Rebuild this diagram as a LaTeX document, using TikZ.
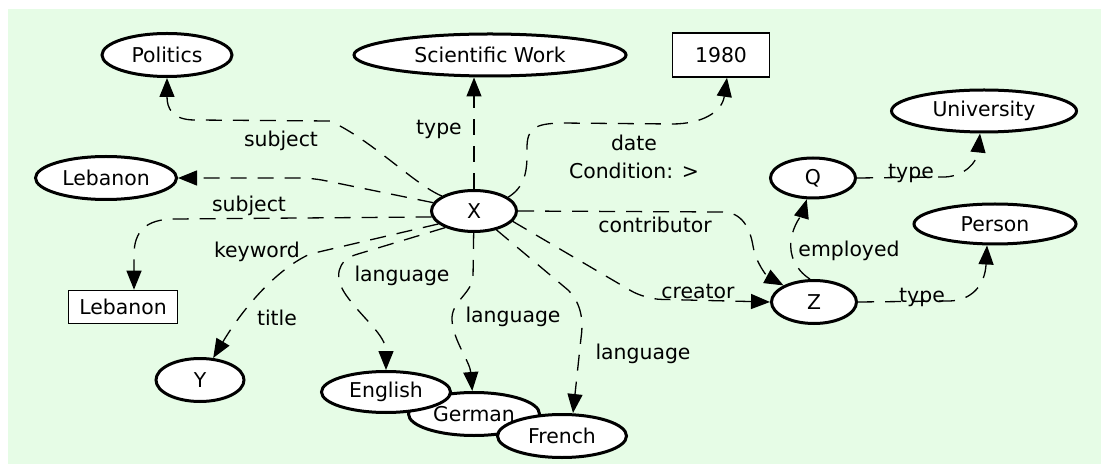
\documentclass[tikz,border=0pt]{standalone}
\usepackage{fontspec}
\setmainfont{DejaVu Sans}
\usetikzlibrary{shapes.geometric,arrows.meta}
\definecolor{paleg}{RGB}{230,252,230}
\begin{document}
\begin{tikzpicture}[x=0.5pt,y=-0.5pt,
	ent/.style={ellipse,draw,line width=1.5pt,fill=white,inner sep=0pt,font=\fontsize{10.2}{12}\selectfont},
	lit/.style={rectangle,draw,line width=0.8pt,fill=white,inner sep=0pt,font=\fontsize{10.2}{12}\selectfont},
	lbl/.style={anchor=base,inner sep=0pt,font=\fontsize{10.2}{14.25}\selectfont},
	edge/.style={line width=0.65pt,dash pattern=on 8pt off 5.5pt,-{Triangle[length=9.5pt,width=7.5pt]}}]
		\useasboundingbox (0,0) rectangle (1101,464);
		\fill[paleg] (8,9) rectangle (1101,464);
		\node[ent,minimum width=65pt,minimum height=21.5pt] (politics) at (167,55) {Politics};
		\node[ent,minimum width=136pt,minimum height=21pt] (sciwork) at (490,55) {Scientific Work};
		\node[lit,minimum width=48.5pt,minimum height=22pt] (year) at (721,55) {1980};
		\node[ent,minimum width=92.5pt,minimum height=21pt] (univ) at (984,111) {University};
		\node[ent,minimum width=42.5pt,minimum height=20pt] (q) at (813,178) {Q};
		\node[ent,minimum width=81pt,minimum height=20pt] (person) at (995,224) {Person};
		\node[ent,minimum width=70.5pt,minimum height=21.5pt] (lebE) at (106,178) {Lebanon};
		\node[ent,minimum width=42.5pt,minimum height=20.5pt] (x) at (474,211) {X};
		\node[ent,minimum width=42.5pt,minimum height=21.5pt] (z) at (814,302) {Z};
		\node[lit,minimum width=54.5pt,minimum height=16.5pt] (lebR) at (123,307) {Lebanon};
		\node[ent,minimum width=44pt,minimum height=21.5pt] (y) at (200,380) {Y};
		\node[ent,minimum width=65.5pt,minimum height=21.5pt] (german) at (474,414) {German};
		\node[ent,minimum width=64.5pt,minimum height=20.5pt] (english) at (386,392) {English};
		\node[ent,minimum width=64.5pt,minimum height=21.5pt] (french) at (562,436) {French};
		\draw[edge] (x.155) .. controls (415,185) and (372,140) .. (330,121) -- (195,120) .. controls (172,120) and (167,108) .. (politics);
		\draw[edge,rounded corners=6pt] (x) -- (312,178) -- (lebE);
		\draw[edge] (x.188) -- (175,219) .. controls (145,219) and (134,232) .. (134,255) -- ([xshift=5.5pt]lebR.north);
		\draw[edge] (x.200) -- (310,254) .. controls (275,270) and (242,310) .. (y);
		\draw[edge] (x.210) -- (358,254) .. controls (336,260) and (334,278) .. (346,295) .. controls (362,318) and (386,335) .. (english);
		\draw[edge] (x) -- (473,278) .. controls (470,295) and (451,302) .. (452,320) .. controls (453,340) and (470,362) .. (german);
		\draw[edge] (x) -- (568,290) .. controls (580,302) and (584,318) .. (581,338) -- ([xshift=5.5pt]french.north);
		\draw[edge,rounded corners=8pt] (x.-15) -- (645,299) -- (z.west);
		\draw[edge] (x.east) -- (722,212) .. controls (742,212) and (750,228) .. (753,246) .. controls (756,264) and (768,277) .. (z);
		\draw[edge] (x.22) .. controls (528,185) and (527,165) .. (527,148) .. controls (527,128) and (535,124) .. (560,123) -- (672,124) .. controls (702,124) and (722,112) .. ([xshift=3pt]year.south);
		\draw[edge] (x) -- (x |- sciwork.south);
		\draw[edge] (z.100) .. controls (796,270) and (789,256) .. (791,240) .. controls (793,225) and (803,212) .. (q);
		\draw[edge] (q.east) -- (945,177) .. controls (965,176) and (977,162) .. ([xshift=-2pt]univ.south);
		\draw[edge] (z.east) -- (950,301) .. controls (972,300) and (985,285) .. ([xshift=-4pt]person.south);
		\node[lbl] (lsubj) at (281,147) {subject};
		\node[lbl] (lsubj2) at (249,212) {subject};
		\node[lbl] (lkey) at (257,258) {keyword};
		\node[lbl] (ltitle) at (277,326) {title};
		\node[lbl] (ltype) at (439,135) {type};
		\node[lbl,align=center] (ldate) at (634,179) {date\\Condition: >};
		\node[lbl] (lcontrib) at (655,233) {contributor};
		\node[lbl] (llang1) at (402,282) {language};
		\node[lbl] (llang2) at (513,322) {language};
		\node[lbl] (llang3) at (643,359) {language};
		\node[lbl] (lcreator) at (698,299) {creator};
		\node[lbl] (lemployed) at (849,257) {employed};
		\node[lbl] (ltypeq) at (911,179) {type};
		\node[lbl] (ltypez) at (922,303) {type};
		\end{tikzpicture}
\end{document}
